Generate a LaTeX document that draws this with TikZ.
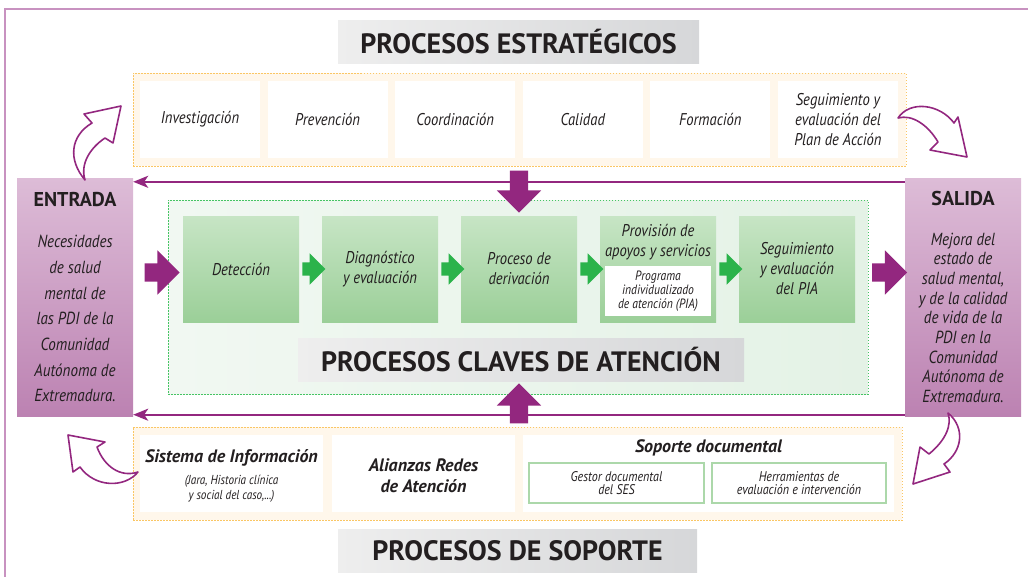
\documentclass[tikz,border=0pt]{standalone}
\usepackage{fontspec}
\setmainfont{PT Sans}[FakeStretch=0.86]
\newfontfamily\negrita{PT Sans}
\usetikzlibrary{shapes.arrows,arrows.meta,calc}

\definecolor{morado}{RGB}{147,39,127}
\definecolor{moradoClaro}{RGB}{221,188,215}
\definecolor{moradoMedio}{RGB}{188,130,178}
\definecolor{marco}{RGB}{200,146,192}
\definecolor{verdeFlecha}{RGB}{43,179,75}
\definecolor{verdeCaja1}{RGB}{199,229,197}
\definecolor{verdeCaja2}{RGB}{155,207,152}
\definecolor{verdeFondo1}{RGB}{241,248,242}
\definecolor{verdeFondo2}{RGB}{228,242,230}
\definecolor{verdeBorde}{RGB}{70,196,100}
\definecolor{naranjaBorde}{RGB}{250,198,100}
\definecolor{crema}{RGB}{255,247,235}
\definecolor{gris1}{RGB}{238,238,238}
\definecolor{gris2}{RGB}{214,215,217}
\definecolor{texto}{RGB}{35,31,32}
\definecolor{verdeLinea}{RGB}{172,216,170}

\begin{document}
\begin{tikzpicture}[x=1pt, y=-1pt,
    titulo/.style={rectangle, left color=gris1, right color=gris2, inner sep=0pt, minimum height=43pt, text=texto, font=\negrita\bfseries\fontsize{28}{28}\selectfont},
    contenedor/.style={rectangle, draw=naranjaBorde, line width=1pt, dash pattern=on 1.5pt off 1.5pt, fill=crema, inner sep=0pt, minimum height=93pt},
    caja/.style={rectangle, fill=white, inner sep=0pt, minimum height=77pt, align=center, text=texto, font=\itshape\fontsize{17}{20}\selectfont},
    extremo/.style={rectangle, top color=moradoClaro, bottom color=moradoMedio, minimum width=116pt, minimum height=238pt, inner sep=0pt, align=center, text=texto},
    zonaClaves/.style={rectangle, draw=verdeBorde, line width=0.8pt, dash pattern=on 1.5pt off 1.5pt, left color=verdeFondo1, right color=verdeFondo2, inner sep=0pt},
    proceso/.style={rectangle, top color=verdeCaja1, bottom color=verdeCaja2, minimum width=116pt, minimum height=106pt, inner sep=0pt, align=center, text=texto, font=\itshape\fontsize{17}{20}\selectfont},
    docu/.style={rectangle, draw=verdeLinea, line width=1.2pt, fill=white, inner sep=0pt, minimum height=40pt, align=center, text=texto, font=\itshape\fontsize{14}{13.5}\selectfont},
    negritaIt/.style={text=texto, font=\negrita\bfseries\itshape\fontsize{18}{21}\selectfont},
    flechaVerde/.style={single arrow, fill=verdeFlecha, inner xsep=0pt, inner ysep=6.5pt, minimum height=23pt, single arrow head extend=9pt},
    flechaMorada/.style={single arrow, fill=morado, inner xsep=0pt, inner ysep=9pt, single arrow head extend=13pt},
    linea/.style={-{Stealth[length=15pt, width=12pt, inset=4pt]}, draw=morado, line width=2.2pt},
    curva/.style={draw=morado, line width=1.6pt, fill=white, line join=round}
]

% Lienzo y marco exterior
\useasboundingbox (0,0) rectangle (1028,576);
\clip (0,0) rectangle (1028,576);
\draw[marco, line width=1.3pt] (5,9) rectangle (1040,590);

% Procesos estrategicos (arriba)
\node[titulo, minimum width=361pt] (tituloEstrat) at (518.5,42) {PROCESOS ESTRATÉGICOS};
\node[contenedor, minimum width=773pt] (estrategicos) at (519.5,119.5) {};
\node[caja, minimum width=120pt] (investigacion) at (200,119.5) {Investigación};
\node[caja, minimum width=120pt] (prevencion) at (327.6,119.5) {Prevención};
\node[caja, minimum width=120pt] (coordinacion) at (455.2,119.5) {Coordinación};
\node[caja, minimum width=120pt] (calidad) at (582.8,119.5) {Calidad};
\node[caja, minimum width=120pt] (formacion) at (710.4,119.5) {Formación};
\node[caja, minimum width=120pt] (segPlan) at (838,119.5) {Seguimiento y\\evaluación del\\Plan de Acción};

% Entrada y salida
\node[extremo, font=\itshape\fontsize{17.5}{25.7}\selectfont] (entrada) at (75,297) {
    {\negrita\upshape\bfseries\fontsize{20}{20}\selectfont ENTRADA}\\[16pt]
    Necesidades\\de salud\\mental de\\las PDI de la\\Comunidad\\Autónoma de\\Extremadura.
};
\node[extremo, font=\itshape\fontsize{17.5}{19.7}\selectfont] (salida) at (963,297) {
    {\negrita\upshape\bfseries\fontsize{20}{20}\selectfont SALIDA}\\[20pt]
    Mejora del\\estado de\\salud mental,\\y de la calidad\\de vida de la\\PDI en la\\Comunidad\\Autónoma de\\Extremadura.
};

% Lineas de retorno hacia la entrada
\draw[linea] ([yshift=-4pt]salida.north west) -- ([yshift=-4pt]entrada.north east);
\draw[linea] ([yshift=1.5pt]salida.south west) -- ([yshift=1.5pt]entrada.south east);

% Procesos claves de atencion (centro)
\node[zonaClaves, minimum width=700pt, minimum height=194pt] (claves) at (518,297) {};
\node[proceso] (deteccion) at (241,269) {Detección};
\node[proceso] (diagnostico) at (380,269) {Diagnóstico\\y evaluación};
\node[proceso] (derivacion) at (519,269) {Proceso de\\derivación};
\node[proceso] (provision) at (658,269) {};
\node[align=center, text=texto, font=\itshape\fontsize{17}{20}\selectfont] (provisionTxt) at (658,242) {Provisión de\\apoyos y servicios};
\node[rectangle, fill=white, minimum width=106pt, minimum height=50pt, inner sep=0pt, align=center, text=texto, font=\itshape\fontsize{13.5}{14}\selectfont] (pia) at (658,291) {Programa\\individualizado\\de atención (PIA)};
\node[proceso] (seguimiento) at (797,269) {Seguimiento\\y evaluación\\del PIA};
\node[titulo, minimum width=446pt] (tituloClaves) at (521,359.5) {PROCESOS CLAVES DE ATENCIÓN};

% Flechas verdes entre procesos
\node[flechaVerde] (f1) at ($(deteccion.east)!0.5!(diagnostico.west)$) {};
\node[flechaVerde] (f2) at ($(diagnostico.east)!0.5!(derivacion.west)$) {};
\node[flechaVerde] (f3) at ($(derivacion.east)!0.5!(provision.west)$) {};
\node[flechaVerde] (f4) at ($(provision.east)!0.5!(seguimiento.west)$) {};

% Flechas moradas gruesas
\node[flechaMorada, minimum height=35pt] (flechaIn) at (157.5,272.5) {};
\node[flechaMorada, minimum height=35pt] (flechaOut) at (885,272.5) {};
\node[flechaMorada, minimum height=42pt, rotate=-90] (flechaBaja) at (519,187) {};
\node[flechaMorada, minimum height=40pt, rotate=90] (flechaSube) at (519,408) {};

% Procesos de soporte (abajo)
\node[contenedor, minimum width=769pt] (soporte) at (517.5,473.5) {};
\node[caja, minimum width=183pt] (sistema) at (231.5,473.5) {};
\node[negritaIt] (sistemaTit) at (231.5,458) {Sistema de Información};
\node[align=center, text=texto, font=\itshape\fontsize{13}{15}\selectfont] (sistemaSub) at (231.5,488.5) {(Jara, Historia clínica\\y social del caso,...)};
\node[caja, minimum width=183pt] (alianzas) at (423.5,473.5) {};
\node[negritaIt, align=center] (alianzasTxt) at (423.5,475.5) {Alianzas Redes\\de Atención};
\node[caja, minimum width=371pt] (soporteDoc) at (708.5,473.5) {};
\node[negritaIt] (soporteTit) at (708.5,448) {Soporte documental};
\node[docu, minimum width=175pt] (gestor) at (616.5,483) {Gestor documental\\del SES};
\node[docu, minimum width=174pt] (herramientas) at (799,483) {Herramientas de\\evaluación e intervención};
\node[titulo, minimum width=359pt] (tituloSoporte) at (517.5,550.5) {PROCESOS DE SOPORTE};

% Flechas curvas huecas
\draw[curva] (85,180) .. controls (68,160) and (70,136) .. (92,123) -- (84,114) -- (121,106) -- (113,143) -- (105,138) .. controls (90,148) and (80,164) .. cycle;
\draw[curva] (898,118) .. controls (910,100) and (940,104) .. (954,123) -- (958,117) -- (967,157) -- (930,150) -- (938,142) .. controls (928,125) and (912,114) .. cycle;
\draw[curva] (948,413) .. controls (966,428) and (962,452) .. (944,464) -- (950,472) -- (913,484) -- (920,447) -- (929,454) .. controls (946,440) and (952,425) .. cycle;
\draw[curva] (138,472) .. controls (120,478) and (104,466) .. (97,447) -- (105,442) -- (68,435) -- (73,472) -- (80,467) .. controls (95,488) and (125,488) .. cycle;

\end{tikzpicture}
\end{document}
